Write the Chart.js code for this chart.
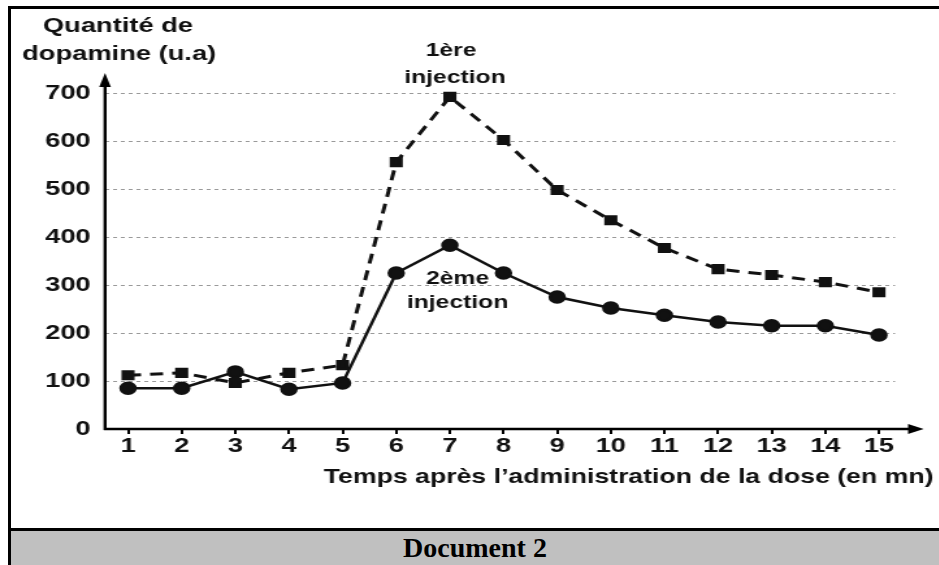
<!DOCTYPE html>
<html>
<head>
<meta charset="utf-8">
<script src="https://cdn.jsdelivr.net/npm/chart.js@4/dist/chart.umd.min.js"></script>
<style>
  html, body { margin: 0; padding: 0; background: #fff; }
  #wrap { position: relative; width: 939px; height: 565px; overflow: hidden; }
  #chart { position: absolute; left: 0; top: 0; transform: scaleX(1.3); transform-origin: 0 0; }
  #frameTop { position: absolute; left: 8px; top: 6px; width: 931px; height: 3px; background: #000; }
  #frameLeft { position: absolute; left: 8px; top: 6px; width: 3px; height: 559px; background: #000; }
  #caption {
    position: absolute; left: 11px; top: 528px; width: 928px; height: 37px;
    border-top: 3px solid #000; background: #c0c0c0;
    font: bold 28px "Liberation Serif", "Times New Roman", serif;
    text-align: center; line-height: 34px; color: #000;
  }
</style>
</head>
<body>
<div id="wrap">
  <canvas id="chart" width="722" height="529"></canvas>
  <div id="frameTop"></div>
  <div id="frameLeft"></div>
  <div id="caption">Document 2</div>
</div>
<script>
const times = [1, 2, 3, 4, 5, 6, 7, 8, 9, 10, 11, 12, 13, 14, 15];
const firstInjection = [112, 117, 96, 117, 133, 556, 692, 602, 498, 435, 377, 333, 321, 306, 285];
const secondInjection = [85, 85, 119, 83, 96, 325, 383, 325, 275, 252, 237, 223, 215, 215, 196];
const yTitle = ["Quantité de", "dopamine (u.a)"];
const xTitle = "Temps après l’administration de la dose (en mn)";
const firstLabel = ["1ère", "injection"];
const secondLabel = ["2ème", "injection"];

const font = '"Liberation Sans", Arial, sans-serif';

// axes with arrows + free text labels
const decor = {
  id: "decor",
  beforeDatasetsDraw(chart) {
    const { ctx, chartArea } = chart;
    const x0 = chartArea.left;
    const y0 = chart.scales.y.getPixelForValue(0);
    ctx.save();
    ctx.strokeStyle = "#000";
    ctx.fillStyle = "#000";
    ctx.lineWidth = 2.4;
    ctx.beginPath();
    ctx.moveTo(x0, y0 + 1);
    ctx.lineTo(x0, chartArea.top + 8);
    ctx.moveTo(x0 - 1, y0);
    ctx.lineTo(chartArea.right + 14, y0);
    ctx.stroke();
    // arrow heads
    ctx.beginPath();
    ctx.moveTo(x0, chartArea.top - 2);
    ctx.lineTo(x0 - 4.5, chartArea.top + 12);
    ctx.lineTo(x0 + 4.5, chartArea.top + 12);
    ctx.closePath();
    ctx.fill();
    ctx.beginPath();
    ctx.moveTo(chartArea.right + 22, y0);
    ctx.lineTo(chartArea.right + 10, y0 - 5);
    ctx.lineTo(chartArea.right + 10, y0 + 5);
    ctx.closePath();
    ctx.fill();
    ctx.restore();
  },
  afterDraw(chart) {
    const { ctx } = chart;
    ctx.save();
    ctx.fillStyle = "#111";
    ctx.textBaseline = "alphabetic";
    ctx.font = "bold 21px " + font;
    ctx.textAlign = "left";
    ctx.fillText(yTitle[0], 33, 32);
    ctx.fillText(yTitle[1], 17, 60);
    ctx.font = "bold 19px " + font;
    ctx.textAlign = "center";
    ctx.fillText(firstLabel[0], 347, 56);
    ctx.fillText(firstLabel[1], 350, 83);
    ctx.fillText(secondLabel[0], 352, 284);
    ctx.fillText(secondLabel[1], 352, 308);
    ctx.font = "bold 20.5px " + font;
    ctx.textAlign = "right";
    ctx.fillText(xTitle, 718, 483);
    ctx.restore();
  }
};

new Chart(document.getElementById("chart"), {
  type: "line",
  data: {
    datasets: [
      {
        label: "1ère injection",
        data: times.map((t, i) => ({ x: t, y: firstInjection[i] })),
        borderColor: "#111",
        backgroundColor: "#111",
        borderWidth: 3,
        borderDash: [10, 7],
        pointStyle: "rect",
        pointRadius: 5,
        tension: 0,
        clip: false
      },
      {
        label: "2ème injection",
        data: times.map((t, i) => ({ x: t, y: secondInjection[i] })),
        borderColor: "#111",
        backgroundColor: "#111",
        borderWidth: 2.5,
        pointStyle: "circle",
        pointRadius: 5.5,
        tension: 0,
        clip: false
      }
    ]
  },
  options: {
    responsive: false,
    animation: false,
    devicePixelRatio: 1,
    layout: { padding: { left: 4, right: 33.5, top: 75, bottom: 0 } },
    plugins: {
      legend: { display: false },
      tooltip: { enabled: false }
    },
    scales: {
      x: {
        type: "linear",
        min: 0.571,
        max: 15.3,
        border: { display: false },
        grid: {
          drawOnChartArea: false,
          drawTicks: true,
          tickLength: 5,
          color: "#000",
          lineWidth: 2
        },
        ticks: {
          stepSize: 1,
          includeBounds: false,
          autoSkip: false,
          maxRotation: 0,
          padding: 0,
          color: "#111",
          font: { family: font, size: 21, weight: "bold" }
        },
        afterFit(scale) { scale.height = 100; }
      },
      y: {
        min: 0,
        max: 737.5,
        border: { display: false, dash: [3, 3] },
        grid: {
          drawTicks: false,
          color: (c) => (c.tick && c.tick.value === 0 ? "rgba(0,0,0,0)" : "#9a9a9a"),
          lineWidth: 1
        },
        ticks: {
          stepSize: 100,
          includeBounds: false,
          padding: 11,
          color: "#111",
          font: { family: font, size: 21, weight: "bold" }
        },
        afterFit(scale) { scale.width = 76.8; }
      }
    }
  },
  plugins: [decor]
});
</script>
</body>
</html>
